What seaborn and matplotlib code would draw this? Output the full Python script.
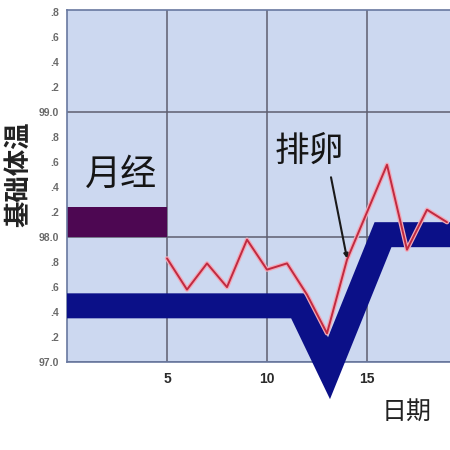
import matplotlib
matplotlib.use('Agg')
import matplotlib.pyplot as plt
import matplotlib.patheffects as pe
from matplotlib.ticker import FixedLocator, FixedFormatter
import seaborn as sns

# basal body temperature readings (F) by cycle day
days = [5, 6, 7, 8, 9, 10, 11, 12, 13, 14, 15, 16, 17, 18, 19]
temps = [97.83, 97.58, 97.79, 97.60, 97.98, 97.74, 97.79, 97.54, 97.23,
         97.82, 98.20, 98.58, 97.90, 98.22, 98.12]

# schematic band: low phase, ovulation dip, high phase
band_days = [0, 11.6, 13.1, 15.8, 20]
band_temps = [97.45, 97.45, 96.95, 98.02, 98.02]

# menstruation block
period_days = [0, 5]
period_low, period_high = 98.0, 98.24

major_y = [97.0, 98.0, 99.0]
major_y_labels = ['97.0', '98.0', '99.0']
minor_y = [97.2, 97.4, 97.6, 97.8, 98.2, 98.4, 98.6, 98.8,
           99.2, 99.4, 99.6, 99.8]
minor_y_labels = ['.2', '.4', '.6', '.8'] * 3
major_x = [5, 10, 15]
minor_x = [1, 2, 3, 4, 6, 7, 8, 9, 11, 12, 13, 14, 16, 17, 18, 19]

sns.set_style('white', {'axes.facecolor': '#ccd8f0'})
plt.rcParams['font.family'] = ['Noto Sans CJK SC', 'DejaVu Sans']

fig = plt.figure(figsize=(4.5, 4.5), dpi=100)
ax = fig.add_axes([67 / 450, 88 / 450, 400 / 450, 352 / 450])

ax.fill_between(period_days, period_low, period_high, color='#4d0752',
                lw=0, zorder=2)

sns.lineplot(x=band_days, y=band_temps, ax=ax, color='#0b1088', lw=18,
             solid_joinstyle='miter', solid_capstyle='butt',
             clip_on=False, zorder=3)

sns.lineplot(x=days, y=temps, ax=ax, color='#c02a40', lw=1.4, zorder=4,
             path_effects=[pe.Stroke(linewidth=3.2, foreground='#f2a8b8'),
                           pe.Normal()])

ax.text(2.7, 98.5, '月经', fontsize=26, ha='center', va='center',
        color='#151515')
ax.text(12.1, 98.69, '排卵', fontsize=25, ha='center', va='center',
        color='#151515')
ax.annotate('', xy=(14.0, 97.83), xytext=(13.2, 98.48),
            arrowprops=dict(arrowstyle='-|>', color='#1a1a1a', lw=1.5,
                            mutation_scale=6, shrinkA=0, shrinkB=0),
            zorder=5)

ax.set_xlim(0, 20)
ax.set_ylim(97.0, 99.82)

ax.xaxis.set_major_locator(FixedLocator(major_x))
ax.xaxis.set_minor_locator(FixedLocator(minor_x))
ax.yaxis.set_major_locator(FixedLocator(major_y))
ax.yaxis.set_major_formatter(FixedFormatter(major_y_labels))
ax.yaxis.set_minor_locator(FixedLocator(minor_y))
ax.yaxis.set_minor_formatter(FixedFormatter(minor_y_labels))

ax.grid(True, which='major', color='#5e5e70', lw=1.1, zorder=1)
ax.set_axisbelow(True)

ax.tick_params(axis='x', which='both', direction='in', length=5, width=1,
               color='#5a6488', pad=7)
ax.tick_params(axis='x', which='major', labelsize=10, labelcolor='#2a2a2a')
ax.tick_params(axis='y', which='both', direction='in', length=5, width=1,
               color='#5a6488', pad=6, labelsize=7.5, labelcolor='#6a6a6a')
for lab in ax.get_xticklabels():
    lab.set_fontweight('bold')
    lab.set_family('Liberation Sans')
for lab in ax.get_yticklabels() + ax.get_yticklabels(minor=True):
    lab.set_fontweight('bold')
    lab.set_family('Liberation Sans')

for side in ['left', 'bottom', 'top']:
    ax.spines[side].set_color('#6878a0')
    ax.spines[side].set_linewidth(1.2)
ax.spines['right'].set_visible(False)

ax.set_ylabel('基础体温', fontsize=19, fontweight='bold', color='#222222')
ax.yaxis.set_label_coords(-0.0875, 0.534)
ax.set_xlabel('日期', fontsize=18, color='#222222')
ax.xaxis.set_label_coords(0.85, -0.105)

fig.savefig('out.png', dpi=100, facecolor='white')
